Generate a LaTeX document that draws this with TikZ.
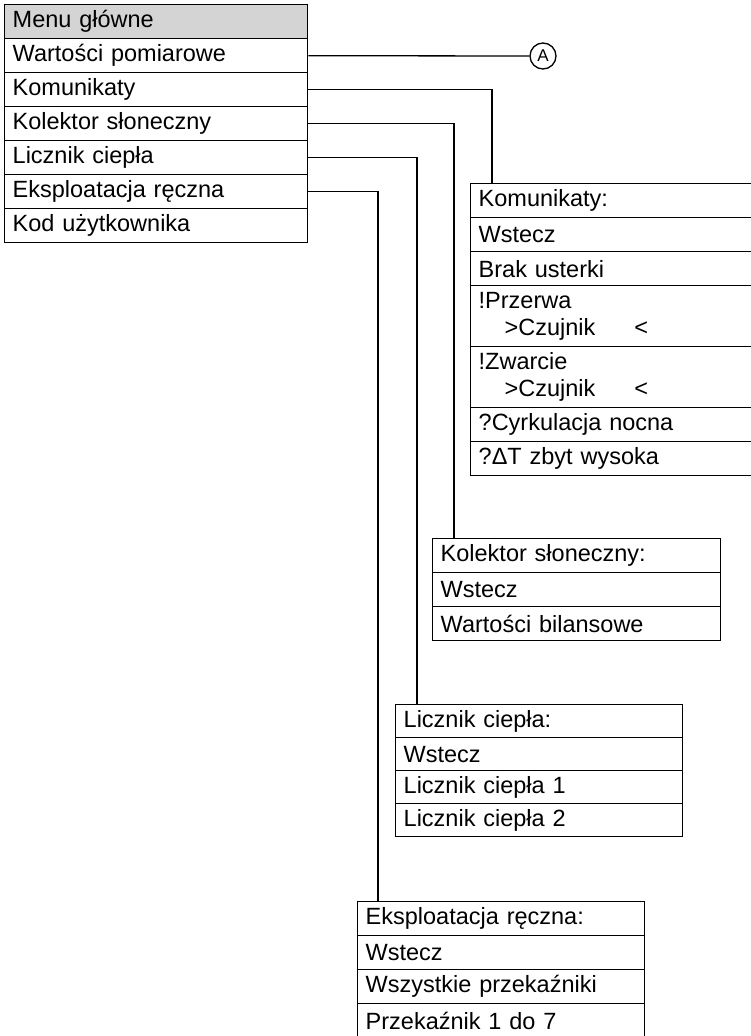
\documentclass[tikz,border=0pt]{standalone}
\usepackage{fontspec}
\setmainfont{Liberation Sans}
\newcommand\rowfont{\fontsize{23.5}{27}\selectfont}
\definecolor{hdrgrey}{HTML}{D4D4D4}
\tikzset{
  mrow/.style={draw, line width=1.4pt, anchor=north west, inner xsep=8pt, inner ysep=0pt,
               align=left, font=\rowfont},
  conn/.style={draw, line width=1.3pt},
  bubble/.style={circle, draw, line width=1.3pt, minimum size=26pt, inner sep=0pt,
                 font=\fontsize{17}{17}\selectfont},
}
\begin{document}
\begin{tikzpicture}[x=1pt, y=-1pt]
\useasboundingbox (0,0) rectangle (751,1036);
% main menu
\begin{scope}[every node/.append style={text width=287pt, minimum height=34pt}]
\node[mrow, fill=hdrgrey] (m0) at (4,4) {Menu główne};
\node[mrow] (m1) at (4,38) {Wartości pomiarowe};
\node[mrow] (m2) at (4,72) {Komunikaty};
\node[mrow] (m3) at (4,106) {Kolektor słoneczny};
\node[mrow] (m4) at (4,140) {Licznik ciepła};
\node[mrow] (m5) at (4,174) {Eksploatacja ręczna};
\node[mrow] (m6) at (4,208) {Kod użytkownika};
\end{scope}
% Komunikaty
\begin{scope}[every node/.append style={text width=267pt}]
\node[mrow, minimum height=34pt] (k0) at (470,183) {Komunikaty:};
\node[mrow, minimum height=34pt] (k1) at (470,217) {Wstecz};
\node[mrow, minimum height=34pt] (k2) at (470,251) {Brak usterki};
\node[mrow, minimum height=61pt] (k3) at (470,285) {!Przerwa\\\hspace*{26pt}>Czujnik\hspace{39pt}<};
\node[mrow, minimum height=61pt] (k4) at (470,346) {!Zwarcie\\\hspace*{26pt}>Czujnik\hspace{39pt}<};
\node[mrow, minimum height=34pt] (k5) at (470,407) {?Cyrkulacja nocna};
\node[mrow, minimum height=34pt] (k6) at (470,441) {?ΔT zbyt wysoka};
\end{scope}
% Kolektor
\begin{scope}[every node/.append style={text width=272pt, minimum height=34pt}]
\node[mrow] (s0) at (432,538) {Kolektor słoneczny:};
\node[mrow] (s1) at (432,572) {Wstecz};
\node[mrow] (s2) at (432,606) {Wartości bilansowe};
\end{scope}
% Licznik
\begin{scope}[every node/.append style={text width=271pt, minimum height=33pt}]
\node[mrow] (l0) at (395,704) {Licznik ciepła:};
\node[mrow] (l1) at (395,737) {Wstecz};
\node[mrow] (l2) at (395,770) {Licznik ciepła 1};
\node[mrow] (l3) at (395,803) {Licznik ciepła 2};
\end{scope}
% Eksploatacja
\begin{scope}[every node/.append style={text width=271pt, minimum height=34pt}]
\node[mrow] (e0) at (357,901) {Eksploatacja ręczna:};
\node[mrow] (e1) at (357,935) {Wstecz};
\node[mrow] (e2) at (357,969) {Wszystkie przekaźniki};
\node[mrow] (e3) at (357,1003) {Przekaźnik 1 do 7};
\end{scope}
% marker A
\node[bubble] (A) at (543,56) {A};
% connectors
\draw[conn] (m1.east) -- (A.west);
\draw[conn] (m2.east) -| ([xshift=22pt]k0.north west);
\draw[conn] (m3.east) -| ([xshift=22pt]s0.north west);
\draw[conn] (m4.east) -| ([xshift=22pt]l0.north west);
\draw[conn] (m5.east) -| ([xshift=21pt]e0.north west);
\end{tikzpicture}
\end{document}
